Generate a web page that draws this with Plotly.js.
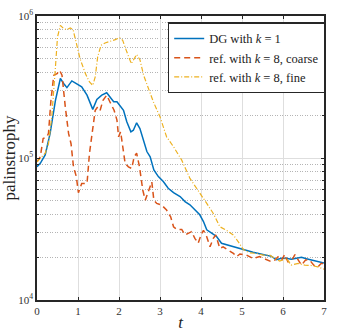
<!DOCTYPE html>
<html>
<head>
<meta charset="utf-8">
<script src="https://cdn.plot.ly/plotly-3.0.1.min.js"></script>
<style>html,body{margin:0;padding:0;background:#fff;}#chart{width:338px;height:334px;}</style>
</head>
<body>
<div id="chart"></div>
<script>
const seriesNames = ["DG with <i>k</i> = 1", "ref. with <i>k</i> = 8, coarse", "ref. with <i>k</i> = 8, fine"];

const tDG = [0, 0.08, 0.2, 0.32, 0.45, 0.57, 0.65, 0.73, 0.85, 0.97, 1.09, 1.22, 1.36, 1.46, 1.58, 1.70, 1.78, 1.87, 1.95, 2.03, 2.11, 2.19, 2.29, 2.35, 2.43, 2.51, 2.60, 2.68, 2.76, 2.85, 2.96, 3.08, 3.20, 3.33, 3.49, 3.61, 3.73, 3.85, 3.97, 4.06, 4.14, 4.26, 4.38, 4.50, 4.62, 4.79, 4.95, 5.11, 5.27, 5.43, 5.60, 5.72, 5.84, 5.96, 6.08, 6.20, 6.33, 6.45, 6.57, 6.73, 6.85, 7.0];
const pDG = [86900, 91800, 105000, 149000, 255000, 363000, 335000, 313000, 349000, 331000, 317000, 277000, 220000, 258000, 277000, 288000, 270000, 249000, 249000, 230000, 217000, 180000, 153000, 157000, 177000, 161000, 134000, 111000, 102000, 82400, 74000, 68200, 61200, 57000, 53500, 49300, 46800, 43200, 39800, 35700, 31200, 29600, 28000, 25100, 24500, 23800, 23200, 22300, 21700, 21200, 20800, 20300, 19200, 19700, 19700, 19400, 19700, 20000, 19500, 19000, 18500, 18200];

const tCoarse = [0, 0.08, 0.15, 0.24, 0.28, 0.34, 0.41, 0.49, 0.55, 0.61, 0.69, 0.77, 0.83, 0.89, 0.96, 1.01, 1.09, 1.22, 1.28, 1.36, 1.42, 1.48, 1.54, 1.61, 1.70, 1.78, 1.88, 1.95, 1.99, 2.04, 2.09, 2.15, 2.23, 2.31, 2.37, 2.43, 2.50, 2.58, 2.64, 2.72, 2.80, 2.85, 2.92, 3.04, 3.16, 3.26, 3.33, 3.41, 3.53, 3.61, 3.69, 3.77, 3.85, 3.93, 4.00, 4.06, 4.14, 4.22, 4.30, 4.36, 4.46, 4.54, 4.66, 4.79, 4.87, 4.95, 5.11, 5.27, 5.43, 5.60, 5.72, 5.80, 5.90, 5.98, 6.04, 6.12, 6.22, 6.29, 6.37, 6.45, 6.55, 6.65, 6.75, 6.85, 6.93, 7.0];
const pCoarse = [94000, 102000, 137000, 141000, 149000, 255000, 383000, 393000, 415000, 383000, 229000, 149000, 126000, 86700, 73800, 56900, 66200, 66200, 108000, 166000, 217000, 229000, 217000, 255000, 277000, 248000, 217000, 185000, 141000, 153000, 120000, 91400, 86700, 84400, 102000, 108000, 86700, 59400, 50500, 57800, 67900, 50500, 47900, 46600, 43000, 38500, 32800, 31400, 31400, 28700, 29400, 30300, 27200, 25100, 28700, 31000, 27900, 23700, 27200, 28700, 23100, 23700, 22500, 21300, 20200, 21100, 20700, 19600, 20200, 19100, 18600, 19100, 20400, 19300, 20900, 18600, 19100, 20900, 19100, 17600, 19100, 19100, 17600, 17100, 18100, 18100];

const tFine = [0, 0.08, 0.2, 0.28, 0.36, 0.45, 0.50, 0.57, 0.65, 0.73, 0.81, 0.88, 0.96, 1.05, 1.18, 1.28, 1.36, 1.42, 1.48, 1.56, 1.66, 1.78, 1.91, 2.01, 2.09, 2.17, 2.30, 2.35, 2.43, 2.51, 2.60, 2.72, 2.84, 3.0, 3.16, 3.33, 3.53, 3.73, 3.93, 4.14, 4.30, 4.46, 4.62, 4.79, 4.91, 5.03, 5.19, 5.35, 5.51, 5.68, 5.80, 5.92, 6.08, 6.2, 6.37, 6.53, 6.69, 6.85, 7.0];
const pFine = [94000, 99200, 108000, 126000, 195000, 438000, 711000, 859000, 815000, 801000, 824000, 801000, 656000, 501000, 393000, 343000, 325000, 372000, 515000, 622000, 646000, 660000, 682000, 705000, 674000, 580000, 462000, 488000, 535000, 493000, 383000, 308000, 248000, 195000, 141000, 120000, 96600, 71800, 59400, 47900, 40700, 32800, 31000, 28700, 25700, 22700, 21500, 21300, 20700, 20700, 19600, 18800, 19600, 17600, 18100, 17600, 17500, 17100, 16500];

const xTicks = [0, 1, 2, 3, 4, 5, 6, 7];
const yTicks = [1e4, 1e5, 1e6];
const yTickText = ["10<sup>4</sup>", "10<sup>5</sup>", "10<sup>6</sup>"];
const yMinor = [2e4, 3e4, 4e4, 5e4, 6e4, 7e4, 8e4, 9e4, 2e5, 3e5, 4e5, 5e5, 6e5, 7e5, 8e5, 9e5];

const serif = "Liberation Serif";

const traces = [
  {x: tDG, y: pDG, name: seriesNames[0], mode: "lines", line: {color: "#0072BD", width: 1.5}},
  {x: tCoarse, y: pCoarse, name: seriesNames[1], mode: "lines", line: {color: "#D95319", width: 1.5, dash: "6px,4px"}},
  {x: tFine, y: pFine, name: seriesNames[2], mode: "lines", line: {color: "#EDB120", width: 1.2, dash: "5px,2px,1px,2px"}}
];

const layout = {
  width: 338, height: 334,
  margin: {l: 37, r: 14, t: 16, b: 34},
  paper_bgcolor: "#fff", plot_bgcolor: "#fff",
  showlegend: true,
  font: {family: serif, color: "#222"},
  xaxis: {
    range: [0, 7], tickmode: "array", tickvals: xTicks,
    showgrid: true, gridcolor: "#dedede", gridwidth: 1,
    zeroline: false, showline: true, linecolor: "#262626", linewidth: 1.6, mirror: "allticks",
    ticks: "inside", ticklen: 3, tickcolor: "#262626",
    tickfont: {family: serif, size: 11, color: "#333"},
    title: {text: "<i>t</i>", font: {family: serif, size: 17, color: "#222"}, standoff: 0}
  },
  yaxis: {
    type: "log", range: [4, 6], tickmode: "array", tickvals: yTicks, ticktext: yTickText,
    showgrid: true, gridcolor: "#dedede", gridwidth: 1,
    zeroline: false, showline: true, linecolor: "#262626", linewidth: 1.6, mirror: "allticks",
    ticks: "inside", ticklen: 3, tickcolor: "#262626",
    tickfont: {family: serif, size: 11, color: "#333"},
    minor: {tickmode: "array", tickvals: yMinor, showgrid: true, griddash: "1px,1.5px", gridcolor: "#b4b4b4", gridwidth: 1, ticks: "inside", ticklen: 2, tickcolor: "#262626"},
    title: {text: "palinstrophy", font: {family: serif, size: 17, color: "#222"}, standoff: 4}
  },
  legend: {
    x: 0.455, y: 0.978, xanchor: "left", yanchor: "top",
    bgcolor: "#fff", bordercolor: "#262626", borderwidth: 1.6,
    font: {family: serif, size: 12.5, color: "#222"},
    itemwidth: 30, tracegroupgap: 0
  }
};

Plotly.newPlot("chart", traces, layout, {displayModeBar: false, staticPlot: true});
</script>
</body>
</html>
